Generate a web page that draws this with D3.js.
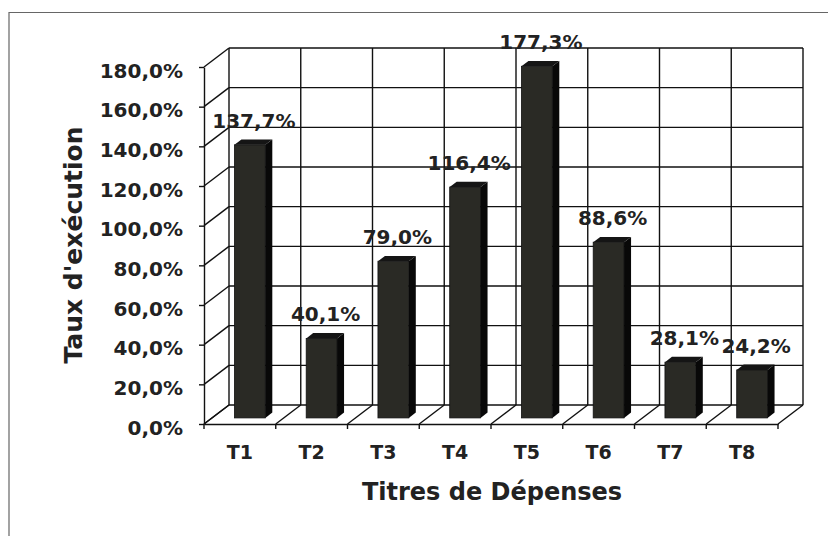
<!DOCTYPE html>
<html>
<head>
<meta charset="utf-8">
<script src="https://cdn.jsdelivr.net/npm/d3@7"></script>
<style>
  body { margin: 0; background: #fff; }
  svg text { font-family: "DejaVu Sans", Verdana, sans-serif; font-weight: bold; fill: #222; }
</style>
</head>
<body>
<div id="chart"></div>
<script>
// data
const categories = ["T1", "T2", "T3", "T4", "T5", "T6", "T7", "T8"];
const values = [137.7, 40.1, 79.0, 116.4, 177.3, 88.6, 28.1, 24.2];
const yTicks = [0, 20, 40, 60, 80, 100, 120, 140, 160, 180];

const width = 835, height = 536;
const plotLeft = 204, plotRight = 778, plotBottom = 424, plotTop = 67;
const depthX = 25, depthY = 19;      // offset from front plane to back wall
const barZ0 = 0.32, barZ1 = 0.6;     // bar depth inside the floor
const barFrac = 0.43;

const locale = d3.formatLocale({ decimal: ",", thousands: " ", grouping: [3], currency: ["", "€"] });
const pct = v => locale.format(".1f")(v) + "%";

const svg = d3.select("#chart").append("svg")
    .attr("width", width)
    .attr("height", height);

// outer frame (cropped on the right and bottom)
svg.append("path")
    .attr("d", "M9,540V12.5H828")
    .attr("fill", "none")
    .attr("stroke", "#666")
    .attr("stroke-width", 1.2);

const x = d3.scaleBand().domain(categories).range([plotLeft, plotRight]).padding(0);
const y = d3.scaleLinear().domain([0, 180]).range([plotBottom, plotTop]);

// project a point of the front plane back by depth z (0 front, 1 back)
const px = (xv, z) => xv + depthX * z;
const py = (yv, z) => yv - depthY * z;

const grid = svg.append("g")
    .attr("stroke", "#111")
    .attr("stroke-width", 1.4)
    .attr("fill", "none");

// back wall horizontal lines
grid.selectAll(".hline")
    .data(yTicks)
    .enter()
    .append("line")
    .attr("x1", px(plotLeft, 1))
    .attr("x2", px(plotRight, 1))
    .attr("y1", d => py(y(d), 1))
    .attr("y2", d => py(y(d), 1));

// back wall vertical lines
const bounds = categories.map(c => x(c)).concat([plotRight]);
grid.selectAll(".vline")
    .data(bounds)
    .enter()
    .append("line")
    .attr("x1", d => px(d, 1))
    .attr("x2", d => px(d, 1))
    .attr("y1", py(y(0), 1))
    .attr("y2", py(y(180), 1));

// left wall depth lines
grid.selectAll(".lwall")
    .data(yTicks)
    .enter()
    .append("line")
    .attr("x1", plotLeft)
    .attr("y1", d => y(d))
    .attr("x2", px(plotLeft, 1))
    .attr("y2", d => py(y(d), 1));

// floor depth lines
grid.selectAll(".floor")
    .data(bounds)
    .enter()
    .append("line")
    .attr("x1", d => d)
    .attr("y1", plotBottom)
    .attr("x2", d => px(d, 1))
    .attr("y2", py(plotBottom, 1));

// boundary ticks below the floor
grid.selectAll(".btick")
    .data(bounds)
    .enter()
    .append("line")
    .attr("x1", d => d)
    .attr("x2", d => d)
    .attr("y1", plotBottom)
    .attr("y2", plotBottom + 5);

// bars
const bw = x.bandwidth() * barFrac;
const dxb = depthX * (barZ1 - barZ0), dyb = depthY * (barZ1 - barZ0);

const bars = svg.selectAll(".bar")
    .data(values)
    .enter()
    .append("g")
    .attr("class", "bar");

bars.each(function (d, i) {
    const g = d3.select(this);
    const x0 = px(x(categories[i]) + (x.bandwidth() - bw) / 2, barZ0) + 2;
    const yTop = py(y(d), barZ0);
    const yBot = py(y(0), barZ0);
    g.append("rect")
        .attr("x", x0)
        .attr("y", yTop)
        .attr("width", bw)
        .attr("height", yBot - yTop)
        .attr("fill", "#2a2a25")
        .attr("stroke", "#111")
        .attr("stroke-width", 0.8);
    g.append("polygon")
        .attr("points", [[x0 + bw, yTop], [x0 + bw + dxb, yTop - dyb], [x0 + bw + dxb, yBot - dyb], [x0 + bw, yBot]].join(" "))
        .attr("fill", "#080808");
    g.append("polygon")
        .attr("points", [[x0, yTop], [x0 + dxb, yTop - dyb], [x0 + bw + dxb, yTop - dyb], [x0 + bw, yTop]].join(" "))
        .attr("fill", "#151515");
    g.append("text")
        .attr("x", x0 + bw / 2 + 4)
        .attr("y", yTop - 17)
        .attr("text-anchor", "middle")
        .attr("font-size", 20)
        .text(pct(d));
});

// y axis on the front plane
const yAxis = d3.axisLeft(y)
    .tickValues(yTicks)
    .tickFormat(pct)
    .tickSize(5)
    .tickSizeOuter(0)
    .tickPadding(16);

const yg = svg.append("g")
    .attr("transform", "translate(" + plotLeft + ",0)")
    .call(yAxis);
yg.selectAll("path, line").attr("stroke", "#111").attr("stroke-width", 1.4);
yg.selectAll("text")
    .attr("font-size", 20)
    .attr("dy", "0.5em")
    .style("font-family", "DejaVu Sans, Verdana, sans-serif")
    .style("font-weight", "bold")
    .attr("fill", "#222");

// x axis
const xAxis = d3.axisBottom(x)
    .tickSize(0)
    .tickSizeOuter(0)
    .tickPadding(22);

const xg = svg.append("g")
    .attr("transform", "translate(0," + plotBottom + ")")
    .call(xAxis);
xg.selectAll("path").attr("stroke", "#111").attr("stroke-width", 1.4);
xg.selectAll("text")
    .attr("font-size", 19)
    .style("font-family", "DejaVu Sans, Verdana, sans-serif")
    .style("font-weight", "bold")
    .attr("fill", "#222");

// axis titles
svg.append("text")
    .attr("x", 492)
    .attr("y", 500)
    .attr("text-anchor", "middle")
    .attr("font-size", 24)
    .text("Titres de Dépenses");

svg.append("text")
    .attr("transform", "translate(82,245) rotate(-90)")
    .attr("text-anchor", "middle")
    .attr("font-size", 25)
    .text("Taux d'exécution");
</script>
</body>
</html>
